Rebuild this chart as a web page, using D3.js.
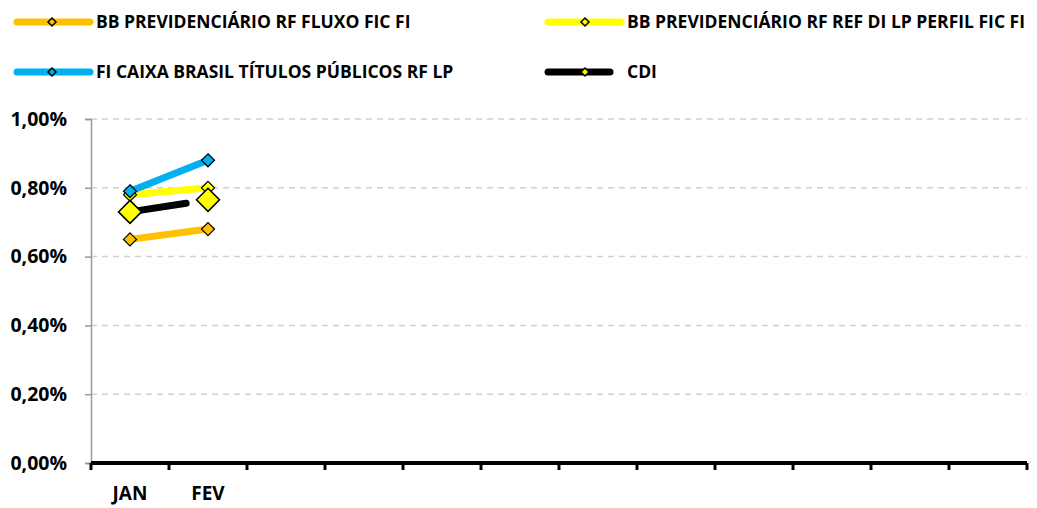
<!DOCTYPE html>
<html><head><meta charset="utf-8">
<script src="https://cdn.jsdelivr.net/npm/d3@7/dist/d3.min.js"></script>
<style>
body{margin:0;background:#fff;}
text{font-family:"Open Sans",Lato,sans-serif;font-weight:bold;fill:#000;}
</style></head>
<body><svg id="c" width="1037" height="508"></svg>
<script>
const months = ["JAN","FEV","MAR","ABR","MAI","JUN","JUL","AGO","SET","OUT","NOV","DEZ"];
const monthLabels = ["JAN","FEV","","","","","","","","","",""];
const seriesNames = ["BB PREVIDENCIÁRIO RF FLUXO FIC FI","BB PREVIDENCIÁRIO RF REF DI LP PERFIL FIC FI","FI CAIXA BRASIL TÍTULOS PÚBLICOS RF LP","CDI"];
const fluxo = [0.65, 0.68];
const perfil = [0.78, 0.80];
const caixa = [0.79, 0.88];
const cdi = [0.73, 0.765];
const yTicks = [0, 0.2, 0.4, 0.6, 0.8, 1.0];

const colors = ["#FFC000","#FFFF00","#00B0F0","#000000"];
const markerFill = ["#FFC000","#FFFF00","#00B0F0","#FFFF00"];
const data = [fluxo, perfil, caixa, cdi];

const svg = d3.select("#c");
const L = 91, R = 1027, T = 119, B = 463;
const x = d3.scaleBand().domain(months).range([L, R]);
const y = d3.scaleLinear().domain([0, 1]).range([B, T]);
const fmt = v => d3.format(".2f")(v).replace(".", ",") + "%";

// gridlines
svg.append("g").selectAll("line").data(yTicks.filter(d => d > 0)).join("line")
  .attr("x1", L).attr("x2", R).attr("y1", d => y(d)).attr("y2", d => y(d))
  .attr("stroke", "#d0d0d0").attr("stroke-width", 1.5).attr("stroke-dasharray", "6,5");

// y axis
const ya = svg.append("g").attr("transform", `translate(${L},0)`)
  .call(d3.axisLeft(y).tickValues(yTicks).tickFormat(fmt).tickSize(6).tickPadding(18));
ya.select(".domain").attr("stroke", "#999").attr("stroke-width", 1.5);
ya.selectAll(".tick line").attr("stroke", "#999").attr("stroke-width", 1.5);
ya.selectAll("text").style("font-size", "19.5px").attr("fill", "#000");

// x axis
const xa = svg.append("g").attr("transform", `translate(0,${B})`)
  .call(d3.axisBottom(x).tickFormat((d, i) => monthLabels[i]).tickSize(0).tickPadding(24));
xa.select(".domain").attr("stroke", "#000").attr("stroke-width", 4).attr("d", `M${L},0H${R}`);
xa.selectAll("text").style("font-size", "19px").attr("fill", "#000");
const edges = months.map(m => x(m)).concat([R]);
svg.append("g").selectAll("line").data(edges).join("line")
  .attr("x1", d => d).attr("x2", d => d).attr("y1", B).attr("y2", B + 7)
  .attr("stroke", "#000").attr("stroke-width", 3);

// series
const line = d3.line().x((d, i) => x(months[i]) + x.bandwidth() / 2).y(d => y(d));
const diamond = s => `M0,${-s}L${s},0L0,${s}L${-s},0Z`;
data.forEach((vals, si) => {
  const g = svg.append("g");
  const p = g.append("path").attr("d", line(vals)).attr("fill", "none")
    .attr("stroke", colors[si]).attr("stroke-width", 7).attr("stroke-linecap", "round");
  if (si === 3) p.attr("pathLength", 100).attr("stroke-dasharray", "72 200");
  g.selectAll("path.m").data(vals).join("path").attr("class", "m")
    .attr("transform", (d, i) => `translate(${x(months[i]) + x.bandwidth() / 2},${y(d)})`)
    .attr("d", diamond(si === 3 ? 11.5 : 6.5))
    .attr("fill", markerFill[si]).attr("stroke", "#000").attr("stroke-width", si === 3 ? 1.5 : 1.2);
});

// legend
const legPos = [[17, 22], [548, 22], [17, 72], [548, 72]];
seriesNames.forEach((name, si) => {
  const [lx, ly] = legPos[si];
  const g = svg.append("g").attr("transform", `translate(${lx},${ly})`);
  const w = si === 3 ? 62 : 73;
  g.append("line").attr("x1", 0).attr("x2", w).attr("y1", 0).attr("y2", 0)
    .attr("stroke", colors[si]).attr("stroke-width", 7).attr("stroke-linecap", "round");
  g.append("path").attr("transform", `translate(${si % 2 ? 37 : 35},0)`).attr("d", diamond(4))
    .attr("fill", markerFill[si]).attr("stroke", "#000").attr("stroke-width", 1.5);
  g.append("text").attr("x", 79).attr("y", 0).attr("dy", "0.35em")
    .style("font-size", "17.5px").text(name);
});
</script></body></html>
